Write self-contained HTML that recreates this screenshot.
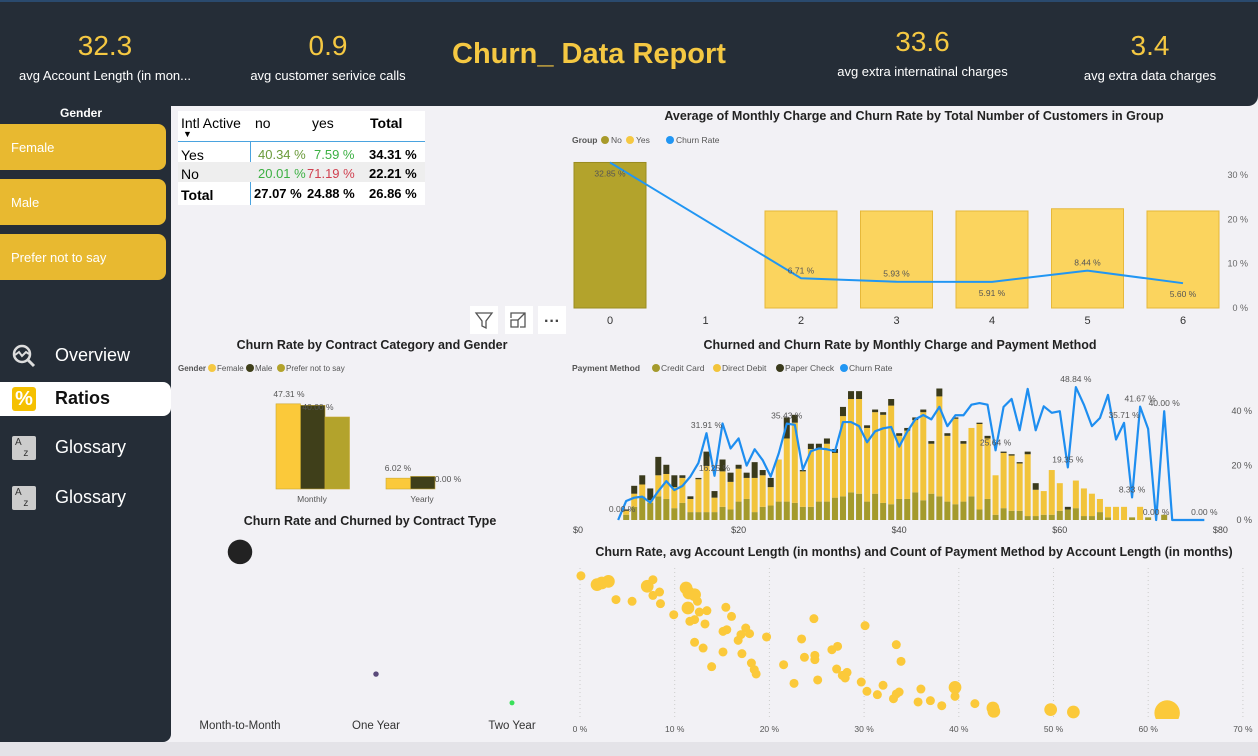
<!DOCTYPE html>
<html><head><meta charset="utf-8">
<style>
*{margin:0;padding:0;box-sizing:border-box}
body{width:1258px;height:756px;overflow:hidden;background:#f2f1f5;font-family:"Liberation Sans",sans-serif;position:relative}
#header{position:absolute;left:0;top:0;width:1258px;height:106px;background:#252d37;border-top:2px solid #2a4a6e;border-radius:0 0 10px 0}
.kpi{position:absolute;text-align:center;color:#fff;font-size:13px}
.kpi .v{color:#f5c842;font-size:28px;display:block;margin-bottom:6px}
#title{position:absolute;left:452px;top:36px;color:#f5c842;font-size:29px;font-weight:bold}
#sidebar{position:absolute;left:0;top:106px;width:171px;height:636px;background:#252d37;border-radius:0 0 8px 0}
.gbtn{position:absolute;left:0;width:166px;height:46px;background:#e8b930;border-radius:0 8px 8px 0;color:#fff;font-size:13px;padding:16px 0 0 11px}
.nav{position:absolute;left:0;width:171px;height:34px;color:#fff;font-size:18px;padding:6px 0 0 55px}
.nav .ic{position:absolute;left:12px;top:5px;width:24px;height:24px}
#table{position:absolute;left:178px;top:111px;width:247px;height:94px;background:#fff;font-size:13px}
.cell{position:absolute}
svg{position:absolute;left:0;top:0}
</style></head><body>
<div id="header">
 <div class="kpi" style="left:0;top:28px;width:210px"><span class="v">32.3</span>avg Account Length (in mon...</div>
 <div class="kpi" style="left:228px;top:28px;width:200px"><span class="v">0.9</span>avg customer serivice calls</div>
 <div id="title">Churn_ Data Report</div>
 <div class="kpi" style="left:820px;top:24px;width:205px"><span class="v">33.6</span>avg extra internatinal charges</div>
 <div class="kpi" style="left:1068px;top:28px;width:164px"><span class="v">3.4</span>avg extra data charges</div>
</div>
<div id="sidebar">
 <div style="position:absolute;left:0;top:0;width:162px;text-align:center;color:#fff;font-size:12px;font-weight:bold">Gender</div>
 <div class="gbtn" style="top:18px">Female</div>
 <div class="gbtn" style="top:73px">Male</div>
 <div class="gbtn" style="top:128px">Prefer not to say</div>
 <div class="nav" style="top:233px"><svg class="ic" viewBox="0 0 24 24" style="position:absolute"><circle cx="10" cy="10" r="8" fill="none" stroke="#ddd" stroke-width="2.5"/><path d="M3 11l4-3 3 4 4-4 3 2" stroke="#ddd" stroke-width="2" fill="none"/><path d="M16 16l6 6" stroke="#ddd" stroke-width="3"/></svg>Overview</div>
 <div class="nav" style="top:276px;background:#fff;color:#111;font-weight:bold;border-radius:0 8px 8px 0"><div class="ic" style="background:#f5c000;border-radius:3px;color:#fff;font-size:20px;text-align:center;line-height:24px">%</div>Ratios</div>
 <div class="nav" style="top:325px"><div class="ic" style="background:#ccc;border-radius:2px;color:#333;font-size:10px;padding:1px 3px">A<br>&nbsp;&nbsp;&nbsp;z</div>Glossary</div>
 <div class="nav" style="top:375px"><div class="ic" style="background:#ccc;border-radius:2px;color:#333;font-size:10px;padding:1px 3px">A<br>&nbsp;&nbsp;&nbsp;z</div>Glossary</div>
</div>
<div id="table">
 <div class="cell" style="left:3px;top:4px;font-size:14px">Intl Active</div>
 <div class="cell" style="left:5px;top:18px;font-size:9px">&#9660;</div>
 <div class="cell" style="left:77px;top:4px;font-size:14px">no</div>
 <div class="cell" style="left:134px;top:4px;font-size:14px">yes</div>
 <div class="cell" style="left:192px;top:4px;font-size:14px;font-weight:bold">Total</div>
 <div style="position:absolute;left:0;top:30px;width:247px;height:1px;background:#4aa3df"></div>
 <div style="position:absolute;left:72px;top:30px;width:1px;height:64px;background:#4aa3df"></div>
 <div style="position:absolute;left:0;top:51px;width:247px;height:20px;background:#eee"></div>
 <div class="cell" style="left:3px;top:36px;font-size:14px">Yes</div>
 <div class="cell" style="left:80px;top:36px;color:#6a9a3a">40.34 %</div>
 <div class="cell" style="left:136px;top:36px;color:#3cb043">7.59 %</div>
 <div class="cell" style="left:191px;top:36px;font-weight:bold">34.31 %</div>
 <div class="cell" style="left:3px;top:55px;font-size:14px">No</div>
 <div class="cell" style="left:80px;top:55px;color:#3cb043">20.01 %</div>
 <div class="cell" style="left:129px;top:55px;color:#d04050">71.19 %</div>
 <div class="cell" style="left:191px;top:55px;font-weight:bold">22.21 %</div>
 <div class="cell" style="left:3px;top:76px;font-weight:bold;font-size:14px">Total</div>
 <div class="cell" style="left:76px;top:75px;font-weight:bold">27.07 %</div>
 <div class="cell" style="left:129px;top:75px;font-weight:bold">24.88 %</div>
 <div class="cell" style="left:191px;top:75px;font-weight:bold">26.86 %</div>
</div>
<div style="position:absolute;left:0;top:742px;width:1258px;height:14px;background:#e4e3e8"></div>
<svg id="chart" width="1258" height="756" font-family="Liberation Sans, sans-serif"></svg>
<script>
// ---- Chart 1: monthly charge & churn by group
const groupCats=[0,1,2,3,4,5,6];
const groupBars=[32.85,null,21.9,21.9,21.9,22.4,21.9];
const groupChurn=[32.85,null,6.71,5.93,5.91,8.44,5.60];
const groupTicks=[0,10,20,30];
// ---- Chart 2: contract category & gender
const contractCats=['Monthly','Yearly'];
const femaleRate=[47.31,6.02];
const maleRate=[46.5,7.0];
const preferRate=[40.00,0.00];
// ---- Chart 3: contract type bubbles
const contractTypes=['Month-to-Month','One Year','Two Year'];
const contractChurn=[47,11.8,3.5];
const contractChurned=[600,30,4];
// ---- Chart 4: monthly charge & payment method
const chargeVals=[6,7,8,9,10,11,12,13,14,15,16,17,18,19,20,21,22,23,24,25,26,27,28,29,30,31,32,33,34,35,36,37,38,39,40,41,42,43,44,45,46,47,48,49,50,51,52,53,54,55,56,57,58,59,60,61,62,63,64,65,66,67,68,69,70,71,72,73];
const creditCard=[2,5,9,6.5,9,8,4.5,6.5,3,3,3,3,5,4,7,8,3,5,5.5,7,7,6.5,5,5,7,7,8.5,9,10.5,10,7,10,6.5,6,8,8,10.5,7.5,10,9,7,6,7,9,4,8,2,4.5,3.5,3.5,1.5,1.5,2,2,3.5,4,4.5,1.5,1.5,3,1,0,0,1,0,1,0,2];
const directDebit=[1.5,5,4.5,1,8,9.5,8,9.5,5,12.5,17.5,5.5,13.5,10.5,12.5,8,13,12,7,16,24,30.5,13.5,22,20,22,17,30.5,35.5,36,28,31,33.5,37.5,24,26,27.5,33.5,19,38,25,32.5,22,26,32.5,23,15,21,21,18,23.5,10,9,17,10.5,0,10.5,10.5,8.5,5,4,5,5,0,5,0,0,0];
const paperCheck=[0.5,3,3.5,4.5,7,3.5,4.5,1,1,0.5,5.5,2.5,4.5,3.5,1.5,2,6,2,3.5,0,8,3,0.5,2,2,2,1.5,3.5,3,3,1,1,1,2.5,1,1,1,1,1,3,1,0.5,1,0,0.5,1,0,0.5,0.5,0.5,1,2.5,0,0,0,1,0,0,0,0,0,0,0,0,0,0,0,0];
const churnX=[5,6,7,8,9,10,11,12,13,14,15,16,17,18,19,20,21,22,23,24,25,26,27,28,29,30,31,32,33,34,35,36,37,38,39,40,41,42,43,44,45,46,47,48,49,50,51,52,53,54,55,56,57,58,59,60,61,62,63,64,65,66,67,68,69,70,71,72,73,74,75,76,77,78];
const churnRate=[0,7,8.2,8.6,6.4,10.6,14.3,11,12.5,16,21,31.91,16.25,35.5,26.3,30,20,26,22,16,24.5,35.43,35,18.6,25.3,26.3,26,25.3,36,36,34.5,28.6,32.6,33.7,34.2,27,32.5,37,38.6,37,41.6,34.5,38.5,38.5,42.4,43,42.4,25.64,41.6,44.5,33,48.2,33,41.8,39.4,40,19.35,48.84,42.4,34.5,37.5,46,29.6,35.71,8.33,41.67,33.5,0,40,0,0,0,0,0];
const churnLabelIdx=[0,11,12,21,47,57,56,63,65,64,67,68,73];
const chargeTicks=[0,20,40,60,80];
const rateTicks=[0,20,40];
// ---- Chart 5: scatter churn vs account length
const scatterChurn=[0.1,1.8,2.3,3.0,3.8,5.5,7.1,7.7,7.7,8.4,8.5,9.9,11.2,11.5,12.1,12.4,11.4,11.6,12.1,12.6,13.4,13.2,15.4,16.0,15.1,15.5,17.5,17.0,17.9,16.7,19.7,12.1,13.0,15.1,17.1,13.9,18.1,18.4,18.6,21.5,22.6,23.4,24.7,23.7,24.8,24.8,25.1,26.6,27.2,27.1,27.7,28.2,28.0,30.1,29.7,30.3,31.4,32.0,33.1,33.4,33.7,33.4,33.9,35.7,36.0,37.0,38.2,39.6,39.6,41.7,43.6,43.7,49.7,52.1,62.0];
const scatterLength=[98,91.7,92.9,94,81,79.8,90.5,95.2,84,86.4,78.1,70.2,89.3,85.7,84.5,79.8,75,65.5,66.7,72.1,73.1,63.6,75.5,69,58.3,59.5,60.7,56,56.7,51.9,54.3,50.5,46.4,43.6,42.4,33.1,35.7,31,27.9,34.5,21.2,52.9,67.4,39.8,41.2,38.1,23.6,45.2,47.6,31.4,26.9,29,25,62.4,22.1,15.5,13.1,19.8,10.2,13.6,15,48.8,36.9,7.9,17.1,8.8,5.2,18.3,11.9,6.7,3.6,1.2,2.4,0.7,0];
const scatterCount=[1,2,2,2,1,1,2,1,1,1,1,1,2,2,2,1,2,1,1,1,1,1,1,1,1,1,1,1,1,1,1,1,1,1,1,1,1,1,1,1,1,1,1,1,1,1,1,1,1,1,1,1,1,1,1,1,1,1,1,1,1,1,1,1,1,1,1,2,1,1,2,2,2,2,8];
const scatterTicks=[0,10,20,30,40,50,60,70];

const NS='http://www.w3.org/2000/svg';
const svg=document.getElementById('chart');
function mk(tag,attrs,parent){const e=document.createElementNS(NS,tag);for(const k in attrs)e.setAttribute(k,attrs[k]);(parent||svg).appendChild(e);return e;}
function txt(x,y,s,size,fill,anchor,weight){const t=mk('text',{x:x,y:y,'font-size':size,fill:fill,'text-anchor':anchor||'start','font-weight':weight||'normal'});t.textContent=s;return t;}
function legendDot(x,y,c){mk('circle',{cx:x,cy:y,r:4,fill:c});}

// ===== Chart 1 =====
txt(914,120,'Average of Monthly Charge and Churn Rate by Total Number of Customers in Group',12.5,'#222','middle','bold');
txt(572,143,'Group',8.5,'#555','start','bold');
legendDot(605,140,'#a89a2a');txt(611,143,'No',8.5,'#555');
legendDot(630,140,'#f5c842');txt(636,143,'Yes',8.5,'#555');
legendDot(670,140,'#2196f3');txt(676,143,'Churn Rate',8.5,'#555');
const x1=c=>610+c*95.5, y1=v=>308-v*4.43;
groupTicks.forEach(t=>{txt(1248,y1(t)+3,t+' %',9,'#666','end');});
groupCats.forEach((c,i)=>{
  if(groupBars[i]==null)return;
  const b=mk('rect',{x:x1(c)-36,y:y1(groupBars[i]),width:72,height:y1(0)-y1(groupBars[i]),fill:i==0?'#b3a32c':'#fbd45e',stroke:i==0?'#9a8c20':'#e6b83a','stroke-width':1});
  
  
});
groupCats.forEach(c=>txt(x1(c),324,String(c),11,'#333','middle'));
let d1='';groupCats.forEach((c,i)=>{if(groupChurn[i]==null)return;d1+=(d1?'L':'M')+x1(c)+' '+y1(groupChurn[i]);});
const l1=mk('path',{d:d1,fill:'none',stroke:'#2196f3','stroke-width':2});


groupCats.forEach((c,i)=>{if(groupChurn[i]==null)return;const up=(i==4||i==6)?14:(i==0?14:-5);txt(x1(c),y1(groupChurn[i])+up,groupChurn[i].toFixed(2)+' %',8.5,'#555','middle');});

// toolbar icons
[[470,'filter'],[505,'focus'],[538,'more']].forEach(([x,n])=>{const r=mk('rect',{x:x,y:306,width:28,height:28,fill:'#fff'});});
mk('path',{d:'M476 313h16l-6 8v7l-4-2v-5z',fill:'none',stroke:'#555','stroke-width':1.3});
mk('path',{d:'M511 318v-5h14v14h-5 M511 320v7h7v-7z M518 320l7-7',fill:'none',stroke:'#555','stroke-width':1.3});
txt(552,326,'···',16,'#444','middle','bold');

// ===== Chart 2 =====
txt(372,349,'Churn Rate by Contract Category and Gender',12.5,'#222','middle','bold');
txt(178,371,'Gender',8,'#555','start','bold');
legendDot(212,368,'#f5c842');txt(217,371,'Female',8,'#555');
legendDot(250,368,'#3f3f1a');txt(255,371,'Male',8,'#555');
legendDot(281,368,'#b3a32c');txt(286,371,'Prefer not to say',8,'#555');
const y2=v=>489-v*1.8;
const groupX=[276,386];
contractCats.forEach((c,i)=>{
  [[femaleRate,'#fbc93a','female'],[maleRate,'#3f3f1a','male'],[preferRate,'#b3a32c','prefer']].forEach(([arr,col,n],j)=>{
    const v=arr[i];const h=y2(0)-y2(v);
    if(h>0){const r=mk('rect',{x:groupX[i]+j*24.5,y:y2(v),width:24.5,height:h,fill:col,stroke:'#c9a830','stroke-width':0.6});
    
    }
  });
  txt(groupX[i]+36,502,c,8.5,'#555','middle');
});
txt(289,397,femaleRate[0].toFixed(2)+' %',8.5,'#555','middle');
txt(318,410,preferRate[0].toFixed(2)+' %',8.5,'#555','middle');
txt(398,471,femaleRate[1].toFixed(2)+' %',8.5,'#555','middle');
txt(448,482,preferRate[1].toFixed(2)+' %',8.5,'#555','middle');

// ===== Chart 3 =====
txt(370,525,'Churn Rate and Churned by Contract Type',12.5,'#222','middle','bold');
const x3=[240,376,512];const y3=v=>715-v*3.47;const cols3=['#222','#5a4a7a','#3ae05a'];
contractTypes.forEach((c,i)=>{
  const dot=mk('circle',{cx:x3[i],cy:y3(contractChurn[i]),r:Math.max(2.5,Math.sqrt(contractChurned[i])*0.5),fill:cols3[i]});
  
  
  txt(x3[i],729,c,11.5,'#333','middle');
});

// ===== Chart 4 =====
txt(900,349,'Churned and Churn Rate by Monthly Charge and Payment Method',12.5,'#222','middle','bold');
txt(572,371,'Payment Method',8.5,'#555','start','bold');
legendDot(656,368,'#a49a2c');txt(661,371,'Credit Card',8.5,'#555');
legendDot(717,368,'#f2c43b');txt(722,371,'Direct Debit',8.5,'#555');
legendDot(780,368,'#3a3a1c');txt(785,371,'Paper Check',8.5,'#555');
legendDot(844,368,'#2196f3');txt(849,371,'Churn Rate',8.5,'#555');
const x4=v=>578+v*8.03, yc=v=>520-v*2.63, yr=v=>520-v*2.72;
chargeTicks.forEach(t=>txt(x4(t),533,'$'+t,9,'#444','middle'));
rateTicks.forEach(t=>txt(1252,yr(t)+3,t+' %',9,'#555','end'));
chargeVals.forEach((v,i)=>{
  let base=0;
  [[creditCard,'#a49a2c'],[directDebit,'#f2c43b'],[paperCheck,'#3a3a1c']].forEach(([arr,col],j)=>{
    const val=arr[i];if(!val)return;
    const r=mk('rect',{x:x4(v)-3,y:yc(base+val),width:6,height:yc(base)-yc(base+val),fill:col});
    
    
    base+=val;
  });
});
let d4='';churnX.forEach((v,i)=>{d4+=(i?'L':'M')+x4(v)+' '+yr(churnRate[i]);});
const l4=mk('path',{d:d4,fill:'none',stroke:'#1e8ef0','stroke-width':2.2,'stroke-linejoin':'round'});


churnLabelIdx.forEach(i=>{const dx=i==0?4:0;const dy=i==0?-8:-5;txt(x4(churnX[i])+dx,yr(churnRate[i])+dy,churnRate[i].toFixed(2)+' %',8.5,'#555','middle');});

// ===== Chart 5 =====
txt(914,556,'Churn Rate, avg Account Length (in months) and Count of Payment Method by Account Length (in months)',12.5,'#222','middle','bold');
const x5=v=>580+v*9.47, y5=v=>713-v*1.4;
scatterTicks.forEach(t=>{mk('line',{x1:x5(t),y1:568,x2:x5(t),y2:718,stroke:'#ccc','stroke-dasharray':'1,3'});txt(x5(t),732,t+' %',8.5,'#555','middle');});
const clip=mk('clipPath',{id:'c5'});mk('rect',{x:575,y:565,width:680,height:154},clip);
const g5=mk('g',{'clip-path':'url(#c5)'});
scatterChurn.forEach((v,i)=>{
  const c=mk('circle',{cx:x5(v),cy:y5(scatterLength[i]),r:4.5*Math.sqrt(scatterCount[i]),fill:'#fbc93a'},g5);
  
  
});
</script>
</body></html>
